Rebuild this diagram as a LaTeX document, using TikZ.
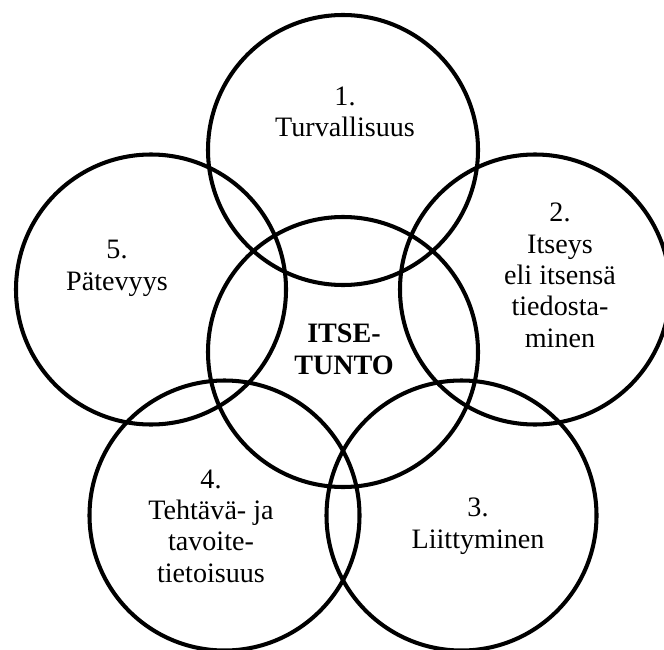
\documentclass[tikz,border=0pt]{standalone}
\usepackage{fontspec}
\setmainfont{Liberation Serif}
\usetikzlibrary{positioning}

\begin{document}
\begin{tikzpicture}[
	ring/.style={draw=black, line width=2.3pt, circle, minimum size=5.4cm, inner sep=0pt},
	lbl/.style={align=center, anchor=base, inner sep=0pt, font=\fontsize{16}{17.8}\selectfont}
]
	\useasboundingbox (0,0) rectangle (13.28,12.98);

	% CENTRE CIRCLE
	\node[ring] (itsetunto) at (6.86, 5.94) {};
	\node[lbl, font=\fontsize{16}{17.8}\selectfont\bfseries] (itsetunto-txt) at (6.88, 5.50) {ITSE-\\TUNTO};

	% OUTER CIRCLES
	\node[ring] (turva) at (6.86, 9.98) {};
	\node[ring] (itseys) at (10.70, 7.19) {};
	\node[ring] (liitty) at (9.23, 2.67) {};
	\node[ring] (tehtava) at (4.49, 2.67) {};
	\node[ring] (patevyys) at (3.02, 7.19) {};

	% LABELS (base = last line)
	\node[lbl] (turva-txt) at (6.90, 10.24) {1.\\Turvallisuus};
	\node[lbl] (itseys-txt) at (11.20, 6.04) {2.\\Itseys\\eli itsensä\\tiedosta-\\minen};
	\node[lbl] (liitty-txt) at (9.56, 2.02) {3.\\Liittyminen};
	\node[lbl] (tehtava-txt) at (4.22, 1.34) {4.\\Tehtävä- ja\\tavoite-\\tietoisuus};
	\node[lbl] (patevyys-txt) at (2.34, 7.18) {5.\\Pätevyys};
\end{tikzpicture}
\end{document}
